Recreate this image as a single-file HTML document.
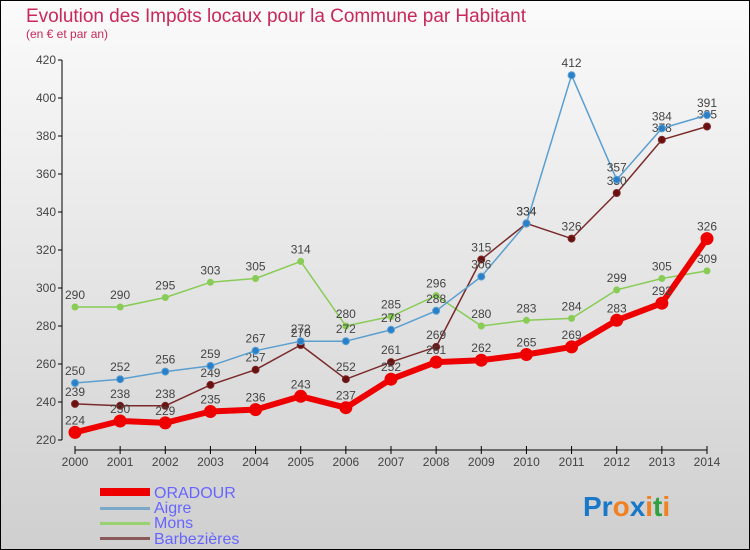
<!DOCTYPE html>
<html><head><meta charset="utf-8"><style>
body{margin:0}
#c{width:750px;height:550px;position:relative;overflow:hidden;font-family:"Liberation Sans",sans-serif}
</style></head><body>
<div id="c">
<svg id="s" width="750" height="550" xmlns="http://www.w3.org/2000/svg">
<defs><linearGradient id="bg" x1="0" y1="0" x2="0" y2="1"><stop offset="0" stop-color="#fbfbfb"/><stop offset="1" stop-color="#cfcfcf"/></linearGradient></defs>
<rect x="0.5" y="0.5" width="749" height="549" fill="url(#bg)" stroke="#000"/>
<text x="26" y="22" font-size="19" fill="#c8285a" textLength="500">Evolution des Impôts locaux pour la Commune par Habitant</text>
<text x="26" y="38" font-size="12" fill="#c8285a">(en € et par an)</text>
<g id="axes"></g><g id="series"></g>
<g>
<rect x="100" y="488" width="50" height="8" fill="#e00"/>
<text x="154" y="498" font-size="16" fill="#6666ff">ORADOUR</text>
<rect x="100" y="507" width="50" height="3" fill="#7aa8c8"/>
<text x="154" y="513" font-size="16" fill="#6666ff">Aigre</text>
<rect x="100" y="522" width="50" height="3" fill="#99d070"/>
<text x="154" y="528" font-size="16" fill="#6666ff">Mons</text>
<rect x="100" y="537" width="50" height="3" fill="#8a5a5a"/>
<text x="154" y="544" font-size="16" fill="#6666ff">Barbezières</text>
</g>
<g font-size="28" font-weight="bold">
<text x="583" y="516"><tspan fill="#1a78c8">Pr</tspan><tspan fill="#f08020">o</tspan><tspan fill="#1a78c8">x</tspan><tspan fill="#f08020">i</tspan><tspan fill="#30a040">t</tspan><tspan fill="#f08020">i</tspan></text>
</g>
</svg></div>
<script>
const years=[2000,2001,2002,2003,2004,2005,2006,2007,2008,2009,2010,2011,2012,2013,2014];
const yTicks=[220,240,260,280,300,320,340,360,380,400,420];
const oradour=[224,230,229,235,236,243,237,252,261,262,265,269,283,292,326];
const aigre=[250,252,256,259,267,272,272,278,288,306,334,412,357,384,391];
const mons=[290,290,295,303,305,314,280,285,296,280,283,284,299,305,309];
const barbezieres=[239,238,238,249,257,270,252,261,269,315,334,326,350,378,385];
const NS="http://www.w3.org/2000/svg";
const xs=i=>75+i*(707-75)/(years.length-1);
const ys=v=>440-(v-220)*1.9;
function mk(t,a,p){const e=document.createElementNS(NS,t);for(const k in a)e.setAttribute(k,a[k]);p.appendChild(e);return e;}
const ax=document.getElementById('axes');
const yl=mk('line',{x1:62,y1:60,x2:62,y2:440,stroke:'#000'},ax);


yTicks.forEach(v=>{
 mk('line',{x1:58,y1:ys(v),x2:62,y2:ys(v),stroke:'#000'},ax);
 const t=mk('text',{x:56,y:ys(v)+4,'font-size':12,fill:'#444','text-anchor':'end'},ax);t.textContent=v;
 
 
});
const xl=mk('line',{x1:75,y1:450,x2:707,y2:450,stroke:'#000'},ax);


years.forEach((y,i)=>{
 mk('line',{x1:xs(i),y1:446,x2:xs(i),y2:454,stroke:'#000'},ax);
 const t=mk('text',{x:xs(i),y:466,'font-size':12,fill:'#444','text-anchor':'middle'},ax);t.textContent=y;
 
 
});
const sg=document.getElementById('series');
function series(d,name,col,fill,w,r){
 const g=mk('g',{},sg);
 
 
 mk('polyline',{points:d.map((v,i)=>xs(i)+','+ys(v)).join(' '),fill:'none',stroke:col,'stroke-width':w,'stroke-linejoin':'round'},g);
 d.forEach((v,i)=>{
  const c=mk('circle',{cx:xs(i),cy:ys(v),r:r,fill:fill,stroke:col,'stroke-width':1},g);
  
  
  const t=mk('text',{x:xs(i),y:ys(v)-8,'font-size':12,fill:'#444','text-anchor':'middle'},g);t.textContent=v;
  
  
 });
}
series(mons,'mons','#88cc55','#88cc55',1.5,3);
series(barbezieres,'barbezieres','#7a2a2a','#6a1010',1.5,3.5);
series(aigre,'aigre','#5a9fd0','#2a80c8',1.5,3.5);
series(oradour,'oradour','#ee0000','#ee0000',6,6);
</script>
</body></html>
